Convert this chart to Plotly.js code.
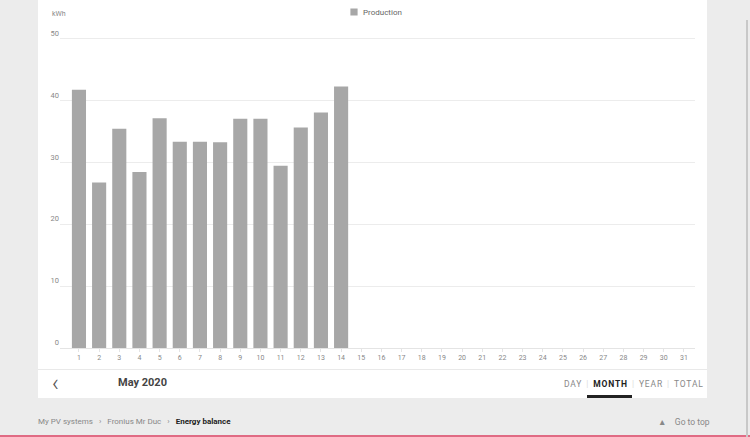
<!DOCTYPE html>
<html>
<head>
<meta charset="utf-8">
<script src="https://cdn.plot.ly/plotly-3.0.1.min.js"></script>
<style>
  html,body{margin:0;padding:0;width:750px;height:437px;overflow:hidden;background:#ececec;font-family:Roboto,"Noto Sans",sans-serif;}
  #card{position:absolute;left:38px;top:0;width:669px;height:398px;background:#fff;}
  #sep{position:absolute;left:38px;top:369px;width:669px;height:1px;background:#e9e9e9;}
  #chart{position:absolute;left:0;top:0;width:750px;height:437px;}
  .t{position:absolute;white-space:nowrap;line-height:1;}
  #back{left:52px;top:372px;font-size:23px;color:#555;font-weight:300;}
  #month{left:118px;top:377px;font-size:11px;color:#444;font-weight:700;}
  #tabs{left:564px;top:380px;font-size:8.5px;color:#888;letter-spacing:0.85px;}
  #tabs b{color:#222;}
  #tabs span.s{color:#ddd;margin:0 4px;}
  #uline{position:absolute;left:587px;top:395px;width:45px;height:3px;background:#222;}
  #crumb{left:38px;top:418px;font-size:8px;color:#888;}
  #crumb b{color:#222;}
  #crumb span.a{margin:0 6px;}
  #top{left:658px;top:418px;font-size:8.5px;color:#888;}
  #red{position:absolute;left:0;top:435px;width:750px;height:2px;background:#e06b84;}
  #scroll{position:absolute;left:746px;top:20px;width:2px;height:417px;background:#c8c8c8;}
</style>
</head>
<body>
<div id="card"></div>
<div id="sep"></div>
<div id="chart"></div>
<div class="t" id="back">&#8249;</div>
<div class="t" id="month">May 2020</div>
<div class="t" id="tabs">DAY<span class="s">|</span><b>MONTH</b><span class="s">|</span>YEAR<span class="s">|</span>TOTAL</div>
<div id="uline"></div>
<div class="t" id="crumb">My PV systems<span class="a">&#8250;</span>Fronius Mr Duc<span class="a">&#8250;</span><b>Energy balance</b></div>
<div class="t" id="top">&#9650;&nbsp;&nbsp;&nbsp;&nbsp;Go to top</div>
<div id="red"></div>
<div id="scroll"></div>
<script>
const days = [1,2,3,4,5,6,7,8,9,10,11,12,13,14,15,16,17,18,19,20,21,22,23,24,25,26,27,28,29,30,31];
const dayLabels = days.map(String);
const production = [41.7,26.7,35.4,28.4,37.1,33.3,33.3,33.2,37.0,37.0,29.4,35.6,38.0,42.2,null,null,null,null,null,null,null,null,null,null,null,null,null,null,null,null,null];
const yTicks = [0,10,20,30,40,50];
const seriesName = "Production";
const unitLabel = "kWh";

Plotly.newPlot('chart', [{
  type: 'bar',
  x: days,
  y: production,
  name: seriesName,
  width: 0.7,
  marker: {color: '#a7a7a7'},
  showlegend: true,
  hoverinfo: 'skip'
}], {
  width: 750, height: 437,
  margin: {l: 60, r: 55, t: 37, b: 89},
  paper_bgcolor: 'rgba(0,0,0,0)',
  plot_bgcolor: 'rgba(0,0,0,0)',
  font: {family: 'Roboto, sans-serif', color: '#888', size: 7},
  showlegend: true,
  legend: {orientation: 'h', x: 0.5 + 11/750, xanchor: 'center', xref: 'container', y: 1 - 12/437, yref: 'container', yanchor: 'middle',
           font: {size: 8, color: '#666'}, bgcolor: 'rgba(0,0,0,0)', itemwidth: 30},
  xaxis: {
    range: [0.06, 31.55],
    tickmode: 'array', tickvals: days, ticktext: dayLabels,
    showgrid: false, zeroline: false,
    showline: true, linecolor: '#e4e4e4', linewidth: 1,
    ticks: 'outside', ticklen: 3, tickcolor: '#e4e4e4',
    tickfont: {size: 7, color: '#888'},
    fixedrange: true
  },
  yaxis: {
    range: [0, 50.2],
    tickmode: 'array', tickvals: yTicks,
    showgrid: true, gridcolor: '#ececec', gridwidth: 1,
    zeroline: false, showline: false,
    ticklabelposition: 'outside top',
    tickfont: {size: 7.5, color: '#888'},
    fixedrange: true
  },
  annotations: [{
    text: unitLabel, xref: 'paper', yref: 'paper', x: -0.016, y: 1.055,
    xanchor: 'left', yanchor: 'bottom', showarrow: false,
    font: {size: 7, color: '#888'}
  }]
}, {displayModeBar: false, staticPlot: true}).then(function(gd){
  // shrink the legend swatch to the small square of the original
  gd.querySelectorAll('.legend .legendpoints path').forEach(function(p){
    p.setAttribute('transform', 'translate(10,0) scale(0.6)');
  });
  gd.querySelectorAll('.legend .legendtext').forEach(function(t){
    t.setAttribute('x', '19');
  });
});
</script>
</body>
</html>
